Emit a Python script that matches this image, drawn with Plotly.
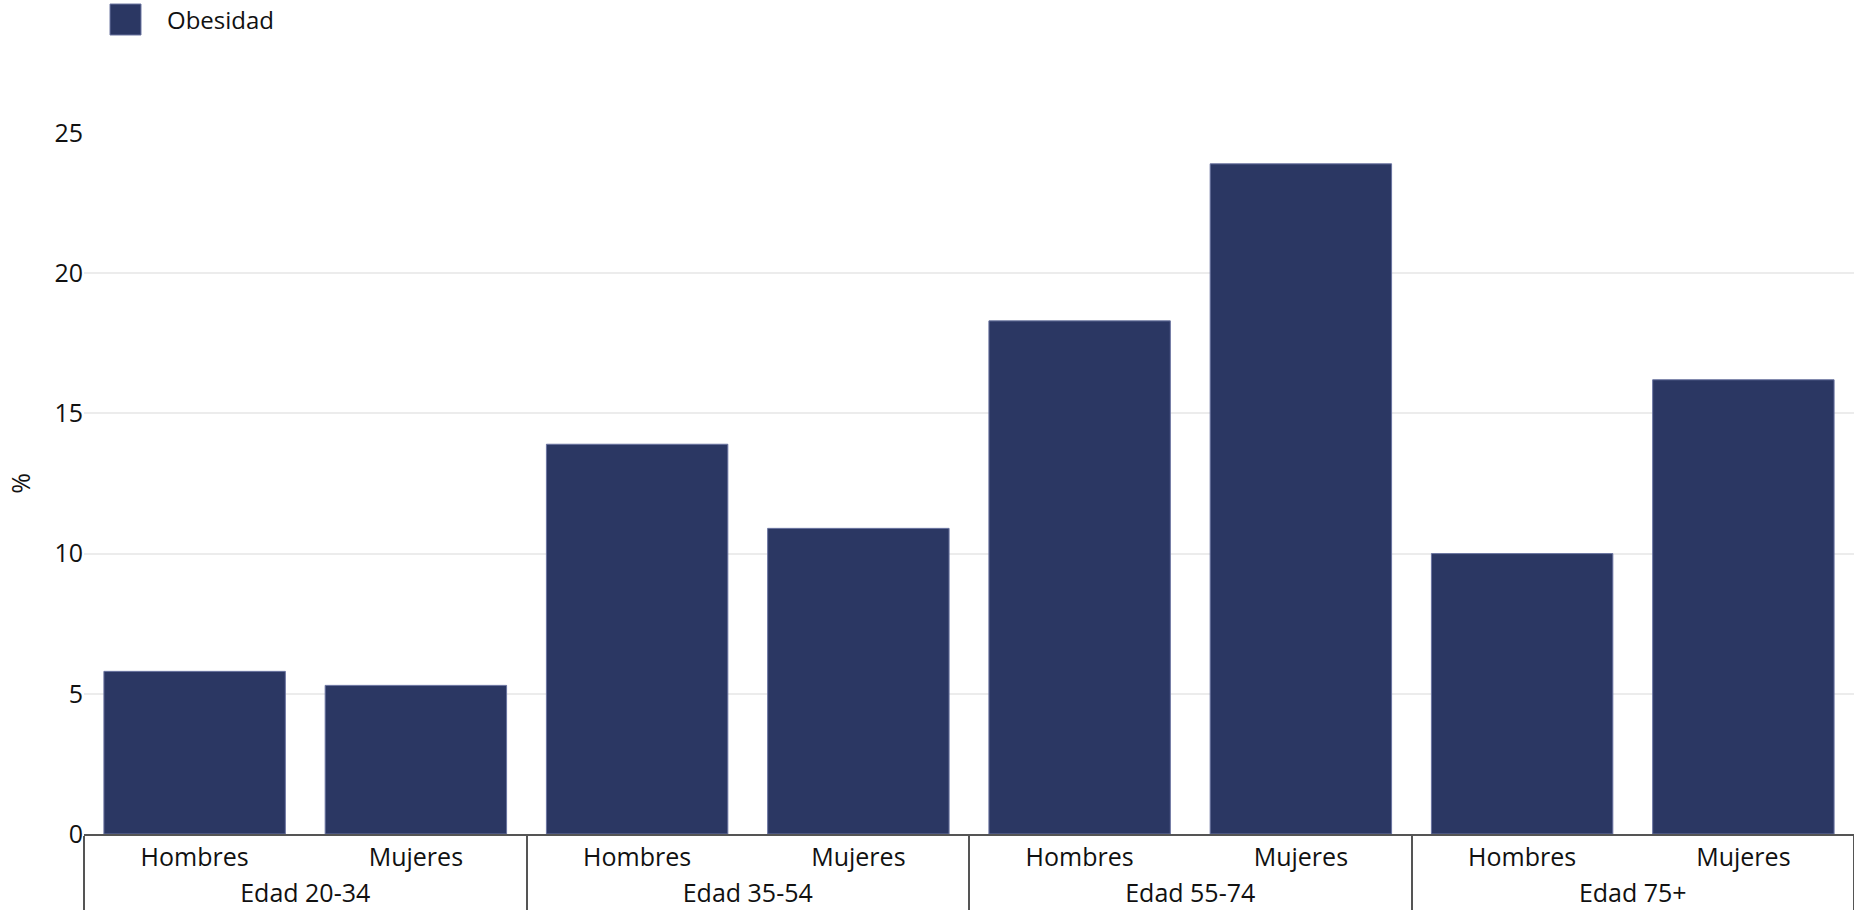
import plotly.graph_objects as go

grupos = ["Edad 20-34", "Edad 20-34", "Edad 35-54", "Edad 35-54",
          "Edad 55-74", "Edad 55-74", "Edad 75+", "Edad 75+"]
sexo = ["Hombres", "Mujeres", "Hombres", "Mujeres",
        "Hombres", "Mujeres", "Hombres", "Mujeres"]
obesidad = [5.8, 5.3, 13.9, 10.9, 18.3, 23.9, 10.0, 16.2]
y_ticks = [0, 5, 10, 15, 20, 25]
serie = "Obesidad"

BAR = "#2b3763"
FONT = "Open Sans"
TXT = "#111111"

fig = go.Figure()
fig.add_trace(go.Bar(
    x=[grupos, sexo], y=obesidad, name=serie,
    marker=dict(color=BAR, line=dict(color="#6a74a0", width=1)),
    showlegend=False,
))

# legend-like swatch and label (large square swatch as in reference)
fig.add_shape(type="rect", xref="paper", yref="paper",
              x0=0.0147, x1=0.0322, y0=1.1398, y1=1.1840,
              fillcolor=BAR, line=dict(color="#6a74a0", width=1))
fig.add_annotation(text=serie, xref="paper", yref="paper",
                   x=0.0455, y=1.1612, xanchor="left", yanchor="middle",
                   showarrow=False, font=dict(size=24, color=TXT, family=FONT))

fig.update_layout(
    width=1854, height=919,
    margin=dict(l=84, r=0, t=133, b=85, autoexpand=False),
    paper_bgcolor="white", plot_bgcolor="white",
    font=dict(family=FONT, size=25, color=TXT),
    bargap=0.18,
    showlegend=False,
    xaxis=dict(
        type="multicategory", showline=True, linecolor="#555555", linewidth=1.5,
        showgrid=False, ticks="", tickfont=dict(size=25, color=TXT),
        showdividers=True, dividercolor="#555555", dividerwidth=1.5,
    ),
    yaxis=dict(
        range=[0, 25], tickvals=y_ticks, showgrid=False,
        zeroline=False, showline=False, ticks="",
        tickfont=dict(size=25, color=TXT),
        minor=dict(tickvals=y_ticks[1:-1], showgrid=True, gridcolor="#ececec",
                   gridwidth=1.5, ticks=""),
        title=dict(text="%", font=dict(size=25, color=TXT), standoff=16),
    ),
)

fig.write_html("out.html", config={"displayModeBar": False},
               post_script="document.body.style.margin='0';")
